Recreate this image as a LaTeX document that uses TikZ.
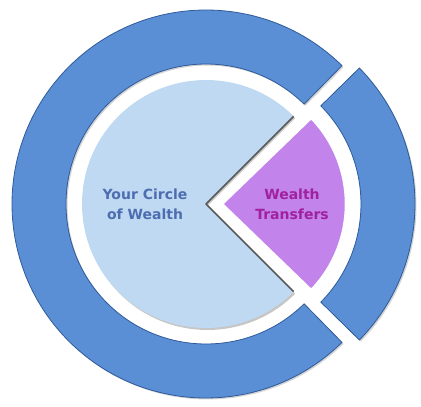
\documentclass[tikz,border=0pt]{standalone}
\usepackage{fontspec}
\setmainfont{DejaVu Sans}
\usepackage{tikz}
\usetikzlibrary{shadows}
\definecolor{ringblue}{HTML}{5A8FD6}
\definecolor{ringedge}{HTML}{2F5A9A}
\definecolor{paleblue}{HTML}{BFD9F3}
\definecolor{wedgepurple}{HTML}{C283EA}
\definecolor{circletext}{HTML}{4D6DB0}
\definecolor{wedgetext}{HTML}{A0209E}

\begin{document}
\begin{tikzpicture}[x=1pt, y=1pt, font=\bfseries\fontsize{14}{20}\selectfont,
  ringpart/.style={fill=ringblue, draw=ringedge, line width=0.8pt,
    drop shadow={shadow xshift=1.5pt, shadow yshift=-1.5pt, opacity=0.35}}]
  \useasboundingbox (-206,-203) rectangle (215,204);
  % outer ring
  \path[ringpart] (45.5:194) arc[start angle=45.5, end angle=314.5, radius=194]
    -- (314.5:140) arc[start angle=314.5, end angle=45.5, radius=140] -- cycle;
  \path[ringpart, xshift=15pt] (-44.5:194) arc[start angle=-44.5, end angle=44.5, radius=194]
    -- (44.5:140) arc[start angle=44.5, end angle=-44.5, radius=140] -- cycle;
  % circle of wealth
  \path[fill=paleblue, drop shadow={shadow xshift=1.5pt, shadow yshift=-2pt, opacity=0.45}]
    (0,0) -- (45:124) arc[start angle=45, end angle=315, radius=124] -- cycle;
  \draw[black!65, line width=1.5pt, line join=round] (45:124) -- (0,0) -- (315:124);
  % wealth transfers
  \path[fill=wedgepurple, draw=white, line width=2.5pt, line join=round, xshift=16pt]
    (0,0) -- (-44:124) arc[start angle=-44, end angle=44, radius=124] -- cycle;
  \node[text=circletext, align=center] (wealth) at (-61,0) {Your Circle\\of Wealth};
  \node[text=wedgetext, align=center] (transfers) at (86,0) {Wealth\\Transfers};
\end{tikzpicture}
\end{document}
